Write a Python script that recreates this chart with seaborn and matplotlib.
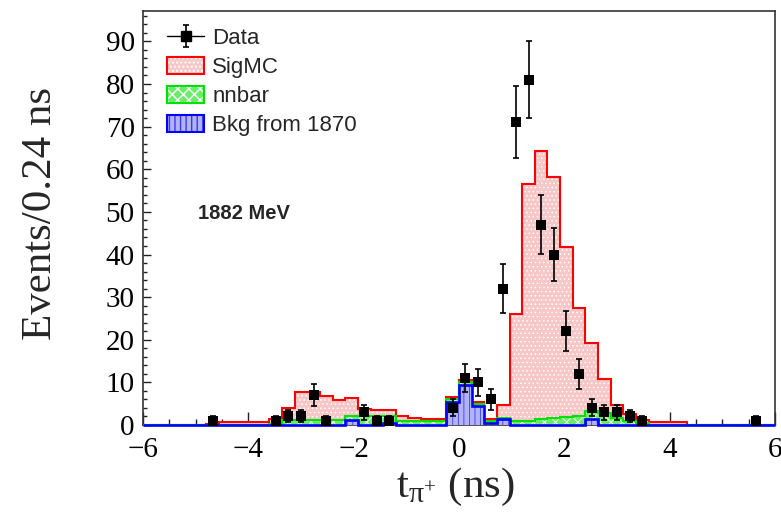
import matplotlib

matplotlib.use("Agg")

import matplotlib.pyplot as plt
import numpy as np
import seaborn as sns
from matplotlib.lines import Line2D
from matplotlib.patches import Patch

# t_pi+ histogram: 50 bins of 0.24 ns between -6 and 6 ns
T_MIN, T_MAX, N_BINS = -6.0, 6.0, 50

# component contents per bin (stacked: bkg, nnbar, sigmc)
sigmc = [
    0, 0, 0, 0, 0, 0.3, 0.6, 0.6, 0.6, 0.6,
    1.2, 3.0, 6.6, 6.6, 5.8, 4.7, 4.3, 1.6, 1.4, 1.4,
    1.0, 0.7, 0.4, 0.4, 0.4, 0.6, 0.5, 0.4, 3.2, 25.1,
    55.6, 62.9, 56.7, 39.9, 25.3, 16.0, 8.0, 3.0, 1.6, 0.7,
    0.7, 0.7, 0.7, 0, 0, 0, 0, 0, 0, 0,
]
nnbar = [
    0, 0, 0, 0, 0, 0, 0, 0, 0, 0,
    0.3, 1.1, 1.1, 1.1, 1.1, 1.1, 1.0, 2.2, 2.2, 1.8,
    1.0, 1.0, 1.0, 1.0, 0.6, 0.6, 0.5, 0.5, 0.2, 1.0,
    1.0, 1.3, 1.6, 1.8, 2.2, 1.8, 2.8, 1.7, 0.9, 0.4,
    0, 0, 0, 0, 0, 0, 0, 0, 0, 0,
]
bkg_1870 = [
    0, 0, 0, 0, 0, 0, 0, 0, 0, 0,
    0, 0, 0, 0, 0, 0, 1.1, 0, 0, 0.4,
    0, 0, 0, 0, 5.5, 9.4, 4.5, 0.5, 1.4, 0,
    0, 0, 0, 0, 0, 1.5, 0, 0, 0, 0,
    0, 0, 0, 0, 0, 0, 0, 0, 0, 0,
]
data_counts = [
    0, 0, 0, 0, 0, 1, 0, 0, 0, 0,
    1, 2, 2, 7, 1, 0, 0, 3, 1, 1,
    0, 0, 0, 0, 4, 11, 10, 6, 32, 71,
    81, 47, 40, 22, 12, 4, 3, 3, 2, 1,
    0, 0, 0, 0, 0, 0, 0, 0, 1, 0,
]

RED, PINK = "#ff0000", "#f7c6c6"
GREEN, LGREEN = "#00e000", "#6aec6a"
BLUE, LBLUE = "#0000ff", "#b2b2f7"

sns.set_theme(style="ticks")
plt.rcParams["font.family"] = ["Liberation Serif", "DejaVu Serif"]
plt.rcParams["mathtext.fontset"] = "custom"
plt.rcParams["mathtext.rm"] = "Liberation Serif"
plt.rcParams["mathtext.it"] = "Liberation Serif:italic"
plt.rcParams["axes.unicode_minus"] = True

edges = np.linspace(T_MIN, T_MAX, N_BINS + 1)
centers = 0.5 * (edges[:-1] + edges[1:])
lvl_bkg = np.array(bkg_1870)
lvl_nn = lvl_bkg + np.array(nnbar)
lvl_sig = lvl_nn + np.array(sigmc)
counts = np.array(data_counts, dtype=float)

fig = plt.figure(figsize=(7.81, 5.20), dpi=100)
ax = fig.add_axes([0.1831, 0.1827, 0.8092, 0.7967])

layers = [
    (lvl_sig, PINK, "white", "....", RED, 1.5),
    (lvl_nn, LGREEN, "white", "xxx", GREEN, 1.5),
    (lvl_bkg, LBLUE, "#3a3aee", "|||", BLUE, 1.9),
]
z = 2
for lvl, face, hcol, hatch, line, lw in layers:
    with plt.rc_context({"hatch.linewidth": 0.6}):
        ax.stairs(lvl, edges, fill=True, facecolor=face, edgecolor=hcol,
                  hatch=hatch, linewidth=0, zorder=z)
    ax.stairs(lvl, edges, color=line, linewidth=lw, zorder=z + 0.5, clip_on=False)
    z += 1

mask = counts > 0
err = ax.errorbar(centers[mask], counts[mask], yerr=np.sqrt(counts[mask]), fmt="none",
                  ecolor="black", elinewidth=1.2, capsize=2, capthick=1.2, zorder=9)
sns.scatterplot(x=centers[mask], y=counts[mask], marker="s", s=55, color="black",
                edgecolor="black", linewidth=0, zorder=10, ax=ax, legend=False)

ax.set_xlim(T_MIN, T_MAX)
ax.set_ylim(0, 97.2)
ax.set_xticks(np.arange(-6, 7, 2))
ax.set_xticks(np.arange(-6, 6.01, 0.5), minor=True)
ax.set_yticks(np.arange(0, 91, 10))
ax.set_yticks(np.arange(0, 97, 2), minor=True)
ax.tick_params(axis="both", which="both", direction="in", top=False, right=False,
               colors="#222222", labelcolor="black", labelsize=21)
ax.tick_params(axis="x", which="major", length=9.5, width=1.0, pad=9)
ax.tick_params(axis="x", which="minor", length=4.5, width=1.0)
ax.tick_params(axis="y", which="major", length=6, width=1.0, pad=6)
ax.tick_params(axis="y", which="minor", length=3, width=1.0)
for sp in ax.spines.values():
    sp.set_color("#333333")
    sp.set_linewidth(1.2)

ax.set_ylabel("Events/0.24 ns", fontsize=31)
ax.yaxis.set_label_coords(-0.132, 0.51)
ax.set_xlabel(r"t$_{\mathrm{π}^{+}}$ (ns)", fontsize=31)
ax.xaxis.set_label_coords(0.495, -0.098)

ax.text(0.087, 0.511, "1882 MeV", transform=ax.transAxes, ha="left", va="center",
        fontsize=14.5, fontweight="bold", family=["Liberation Sans", "DejaVu Sans"])

data_handle = (Line2D([], [], color="black", lw=1.0, marker="s", markersize=7), err)
sig_handle = (Patch(facecolor=PINK, edgecolor="white", hatch="....", lw=0),
              Patch(fill=False, edgecolor=RED, lw=1.5))
nn_handle = (Patch(facecolor=LGREEN, edgecolor="white", hatch="xxx", lw=0),
             Patch(fill=False, edgecolor=GREEN, lw=1.5))
bkg_handle = (Patch(facecolor=LBLUE, edgecolor="#3a3aee", hatch="|||", lw=0),
              Patch(fill=False, edgecolor=BLUE, lw=1.5))
ax.legend([data_handle, sig_handle, nn_handle, bkg_handle],
          ["Data", "SigMC", "nnbar", "Bkg from 1870"],
          loc="upper left", bbox_to_anchor=(0.038, 0.958), frameon=False,
          borderpad=0, borderaxespad=0, handlelength=1.68, handleheight=0.77,
          handletextpad=0.36, labelspacing=0.36,
          prop={"family": ["Liberation Sans", "DejaVu Sans"], "size": 16})

fig.savefig("out.png", dpi=100)
